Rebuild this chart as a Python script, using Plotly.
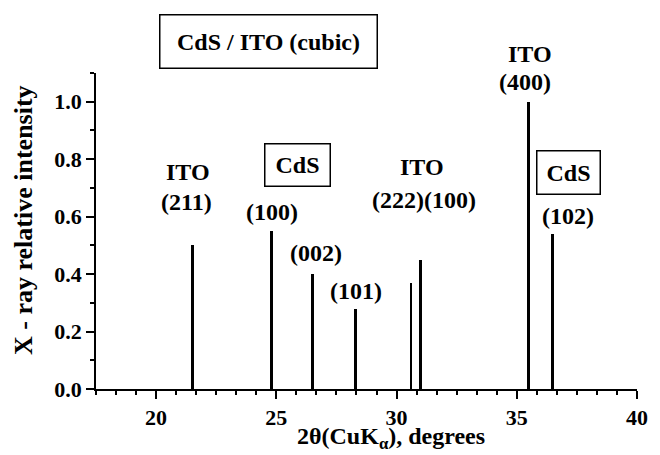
import plotly.graph_objects as go

# Data
peak_positions = [21.5, 24.8, 26.5, 28.3, 30.6, 31.0, 35.5, 36.5]
peak_intensity = [0.50, 0.55, 0.40, 0.28, 0.37, 0.45, 1.00, 0.54]
x_ticks = [20, 25, 30, 35, 40]
y_ticks = [0.0, 0.2, 0.4, 0.6, 0.8, 1.0]

FONT = "'Liberation Serif', Tinos, 'Times New Roman', Times, 'DejaVu Serif', serif"

fig = go.Figure()
fig.add_trace(go.Bar(x=peak_positions, y=peak_intensity, width=0.12,
                     marker=dict(color="black", line=dict(width=0)),
                     showlegend=False))

axis_common = dict(showline=True, linecolor="black", linewidth=1.5,
                   ticks="outside", ticklen=8, tickwidth=1.5, tickcolor="black",
                   showgrid=False, zeroline=False,
                   tickfont=dict(family=FONT, size=22, color="black", weight="bold"))

fig.update_xaxes(range=[17.5, 40], tickvals=x_ticks, ticktext=[str(v) for v in x_ticks],
                 minor=dict(tick0=20, dtick=5/6, ticks="outside", ticklen=4,
                            tickwidth=1.5, tickcolor="black", showgrid=False),
                 **axis_common)
fig.update_yaxes(range=[0, 1.1], tickvals=y_ticks, ticktext=[f"{v:.1f}" for v in y_ticks],
                 minor=dict(tick0=0, dtick=0.1, ticks="outside", ticklen=4,
                            tickwidth=1.5, tickcolor="black", showgrid=False),
                 **axis_common)

def lab(text, x, y, size=24, box=None, ref="data", angle=0, yanchor="middle"):
    d = dict(text=text, x=x, y=y, showarrow=False, xanchor="center", yanchor=yanchor,
             textangle=angle,
             font=dict(family=FONT, size=size, color="black", weight="bold"))
    if ref == "paper":
        d.update(xref="paper", yref="paper")
    if box:
        d.update(bordercolor="black", borderwidth=1.5, borderpad=0,
                 width=box[0], height=box[1], bgcolor="white")
    fig.add_annotation(**d)

lab("CdS / ITO (cubic)", 0.3193, 1.0984, box=(216, 52), ref="paper")
lab("ITO", 21.33, 0.754)
lab("(211)", 21.27, 0.650)
lab("CdS", 25.86, 0.781, box=(64, 41))
lab("(100)", 24.84, 0.616)
lab("(002)", 26.64, 0.475)
lab("(101)", 28.32, 0.341)
lab("ITO", 31.07, 0.772)
lab("(222)(100)", 31.14, 0.657)
lab("ITO", 0.8027, 1.060, ref="paper")
lab("(400)", 35.33, 1.067)
lab("CdS", 37.17, 0.754, box=(62, 42))
lab("(102)", 37.13, 0.602)

lab("X - ray relative intensity", -0.133, 0.535, size=26, ref="paper", angle=-90)
lab("2θ(CuK<sub>α</sub>), degrees", 0.5455, -0.208, size=24, ref="paper", yanchor="bottom")

fig.update_layout(width=660, height=455,
                  margin=dict(l=96, r=15, t=73, b=66),
                  font=dict(family=FONT),
                  plot_bgcolor="white", paper_bgcolor="white",
                  bargap=0)

fig.write_html("out.html")
